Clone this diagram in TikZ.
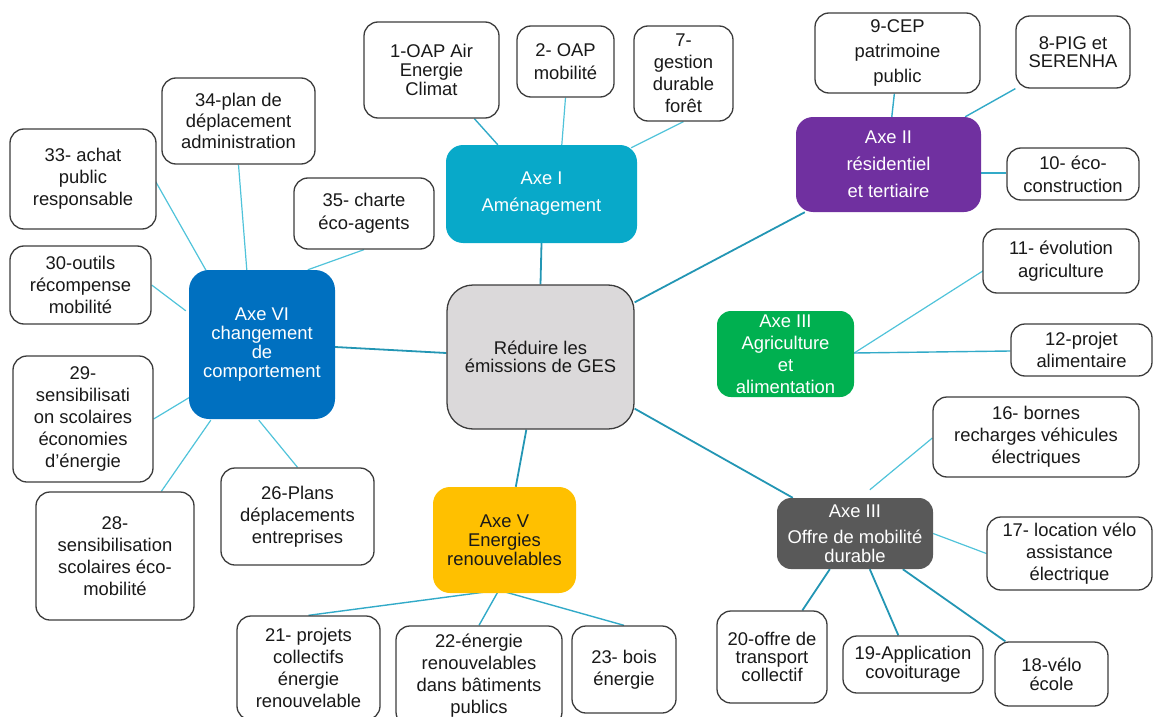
\documentclass[tikz,border=0pt]{standalone}
\usepackage{fontspec}
\setmainfont{Liberation Sans}
\usetikzlibrary{calc,backgrounds}
\definecolor{cAxeI}{RGB}{8,169,201}
\definecolor{cAxeII}{RGB}{112,48,160}
\definecolor{cAxeIII}{RGB}{0,176,80}
\definecolor{cAxeIIIm}{RGB}{89,89,89}
\definecolor{cAxeV}{RGB}{255,192,0}
\definecolor{cAxeVI}{RGB}{0,112,192}
\definecolor{cCenter}{RGB}{219,217,218}
\definecolor{boxline}{RGB}{60,60,60}
\definecolor{linedark}{RGB}{35,150,180}
\definecolor{linemid}{RGB}{50,170,200}
\definecolor{linelight}{RGB}{80,195,218}
\definecolor{txt}{RGB}{25,25,25}
\begin{document}
\begin{tikzpicture}[x=1pt,y=-1pt,
  wh/.style 2 args={minimum width=#1pt, minimum height=#2pt},
  ls/.style={font=\fontsize{18.4}{#1}\selectfont},
  leaf/.style={draw=boxline, line width=1.3pt, rounded corners=14pt, fill=white, inner sep=0pt, align=center, text=txt},
  axis/.style={rounded corners=17pt, inner sep=0pt, align=center, text=white},
  mainline/.style={draw=linedark, line width=1.8pt},
  midline/.style={draw=linemid, line width=1.4pt},
  subline/.style={draw=linelight, line width=1.2pt},
]
\useasboundingbox (0,0) rectangle (1154,717);

% centre
\node[leaf, fill=cCenter, rounded corners=26pt, wh={187}{144}, ls=18] (c) at (540.5,357) {Réduire les\\émissions de GES};

% axes
\node[axis, fill=cAxeI, wh={191}{98}, ls=27] (a1) at (541.5,194) {Axe I\\Aménagement};
\node[axis, fill=cAxeII, wh={185}{95}, ls=27] (a2) at (888.5,164.5) {Axe II\\résidentiel\\et tertiaire};
\node[axis, fill=cAxeIII, rounded corners=14pt, wh={137}{86}, ls=22] (a3g) at (785.5,354) {Axe III\\Agriculture\\et\\alimentation};
\node[axis, fill=cAxeIIIm, rounded corners=14pt, wh={156}{71}, ls=19] (a3m) at (855,533.5) {Axe III\\[7pt]Offre de mobilité\\durable};
\node[axis, fill=cAxeV, text=txt, wh={143}{106}, ls=19] (a5) at (504.5,540) {Axe V\\Energies\\renouvelables};
\node[axis, fill=cAxeVI, rounded corners=20pt, wh={146}{149}, ls=19] (a6) at (262,344.5) {Axe VI\\changement\\de\\comportement};

% Axe I leaves
\node[leaf, wh={135}{96}, ls=19] (n1) at (431.5,70) {1-OAP Air\\Energie\\Climat};
\node[leaf, wh={97}{71}, ls=23] (n2) at (565.5,61.5) {2- OAP\\mobilité};
\node[leaf, wh={99}{95}, ls=22] (n7) at (683.5,73.5) {7-\\gestion\\durable\\forêt};

% Axe II leaves
\node[leaf, wh={165}{80}, ls=25] (n9) at (897.5,53) {9-CEP\\patrimoine\\public};
\node[leaf, wh={114}{72}, ls=18] (n8) at (1073,52) {8-PIG et\\SERENHA};
\node[leaf, wh={132}{52}, ls=23] (n10) at (1073,174) {10- éco-\\construction};

% Axe III agriculture leaves
\node[leaf, wh={156}{64}, ls=23] (n11) at (1061,261) {11- évolution\\agriculture};
\node[leaf, wh={141}{52}, ls=22] (n12) at (1081.5,350) {12-projet\\alimentaire};

% Axe III mobility leaves
\node[leaf, wh={206}{80}, ls=22] (n16) at (1036,437) {16- bornes\\recharges véhicules\\électriques};
\node[leaf, wh={165}{73}, ls=22] (n17) at (1069.5,553.5) {17- location vélo\\assistance\\électrique};
\node[leaf, wh={113}{64}, ls=19] (n18) at (1051.5,674) {18-vélo\\école};
\node[leaf, wh={140}{57}, ls=19] (n19) at (913,664.5) {19-Application\\covoiturage};
\node[leaf, wh={110}{92}, ls=18] (n20) at (772,657) {20-offre de\\transport\\collectif};

% Axe V leaves
\node[leaf, wh={143}{104}, ls=22] (n21) at (308.5,668) {21- projets\\collectifs\\énergie\\renouvelable};
\node[leaf, wh={166}{100}, ls=22] (n22) at (479,676) {22-énergie\\renouvelables\\dans bâtiments\\publics};
\node[leaf, wh={104}{87}, ls=22] (n23) at (624,669.5) {23- bois\\énergie};

% Axe VI leaves
\node[leaf, wh={153}{97}, ls=22] (n26) at (297.5,516.5) {26-Plans\\déplacements\\entreprises};
\node[leaf, wh={158}{128}, ls=22] (n28) at (115,556) {28-\\sensibilisation\\scolaires éco-\\mobilité};
\node[leaf, wh={140}{126}, ls=22] (n29) at (83,419) {29-\\sensibilisati\\on scolaires\\économies\\d’énergie};
\node[leaf, wh={141}{78}, ls=22] (n30) at (80.5,285) {30-outils\\récompense\\mobilité};
\node[leaf, wh={146}{100}, ls=22] (n33) at (83,179) {33- achat\\public\\responsable};
\node[leaf, wh={153}{86}, ls=21] (n34) at (238.5,121) {34-plan de\\déplacement\\administration};
\node[leaf, wh={140}{71}, ls=23] (n35) at (364,213.5) {35- charte\\éco-agents};

\begin{pgfonlayer}{background}
% centre to axes
\draw[mainline] (a1.south) -- (c.north);
\draw[mainline] ($(a2.south west)+(9,0)$) -- ($(c.north east)+(0,18)$);
\draw[mainline] ($(a3m.north west)+(16,0)$) -- ($(c.south east)+(0,-21)$);
\draw[mainline] ($(a5.north west)+(83,0)$) -- ($(c.south west)+(80,0)$);
\draw[mainline] ($(a6.east)+(0,2.5)$) -- ($(c.west)+(0,-4)$);

% Axe I
\draw[midline] ($(n1.south west)+(111,0)$) -- ($(a1.north west)+(52,0)$);
\draw[subline] (n2.south) -- ($(a1.north west)+(116,0)$);
\draw[subline] (n7.south) -- ($(a1.north east)+(-6,3)$);

% Axe II
\draw[midline] ($(n9.south west)+(80,0)$) -- ($(a2.north west)+(96,0)$);
\draw[midline] (n8.south west) -- ($(a2.north east)+(-16,0)$);
\draw[midline] ($(a2.east)+(0,8.5)$) -- ($(n10.west)+(0,-1)$);

% Axe III agriculture
\draw[subline] ($(a3g.east)+(0,-1)$) -- ($(n11.west)+(2,9)$);
\draw[midline] ($(a3g.east)+(0,-1)$) -- ($(n12.west)+(0,1)$);

% Axe III mobility
\draw[subline] ($(a3m.north west)+(93,-8)$) -- ($(n16.west)+(0,1)$);
\draw[subline] (a3m.east) -- (n17.west);
\draw[mainline] ($(a3m.south west)+(53,0)$) -- ($(n20.north west)+(86,0)$);
\draw[mainline] ($(a3m.south west)+(93,0)$) -- ($(n19.north west)+(56,0)$);
\draw[mainline] ($(a3m.south west)+(126,0)$) -- ($(n18.north west)+(11,0)$);

% Axe V
\draw[midline] ($(a5.south west)+(66,-3)$) -- (n21.north);
\draw[midline] ($(a5.south west)+(66,-3)$) -- (n22.north);
\draw[midline] ($(a5.south west)+(66,-3)$) -- (n23.north);

% Axe VI
\draw[subline] ($(n33.east)+(-3,-1)$) -- ($(a6.north west)+(22,9)$);
\draw[subline] (n34.south) -- ($(a6.north west)+(58,0)$);
\draw[subline] (n35.south) -- ($(a6.north west)+(119,0)$);
\draw[subline] (n30.east) -- ($(a6.north west)+(-3,41)$);
\draw[subline] (n29.east) -- ($(a6.south west)+(1,-22)$);
\draw[subline] ($(n28.north west)+(126,0)$) -- ($(a6.south west)+(22,1)$);
\draw[subline] (n26.north) -- ($(a6.south west)+(70,1)$);
\end{pgfonlayer}
\end{tikzpicture}
\end{document}
